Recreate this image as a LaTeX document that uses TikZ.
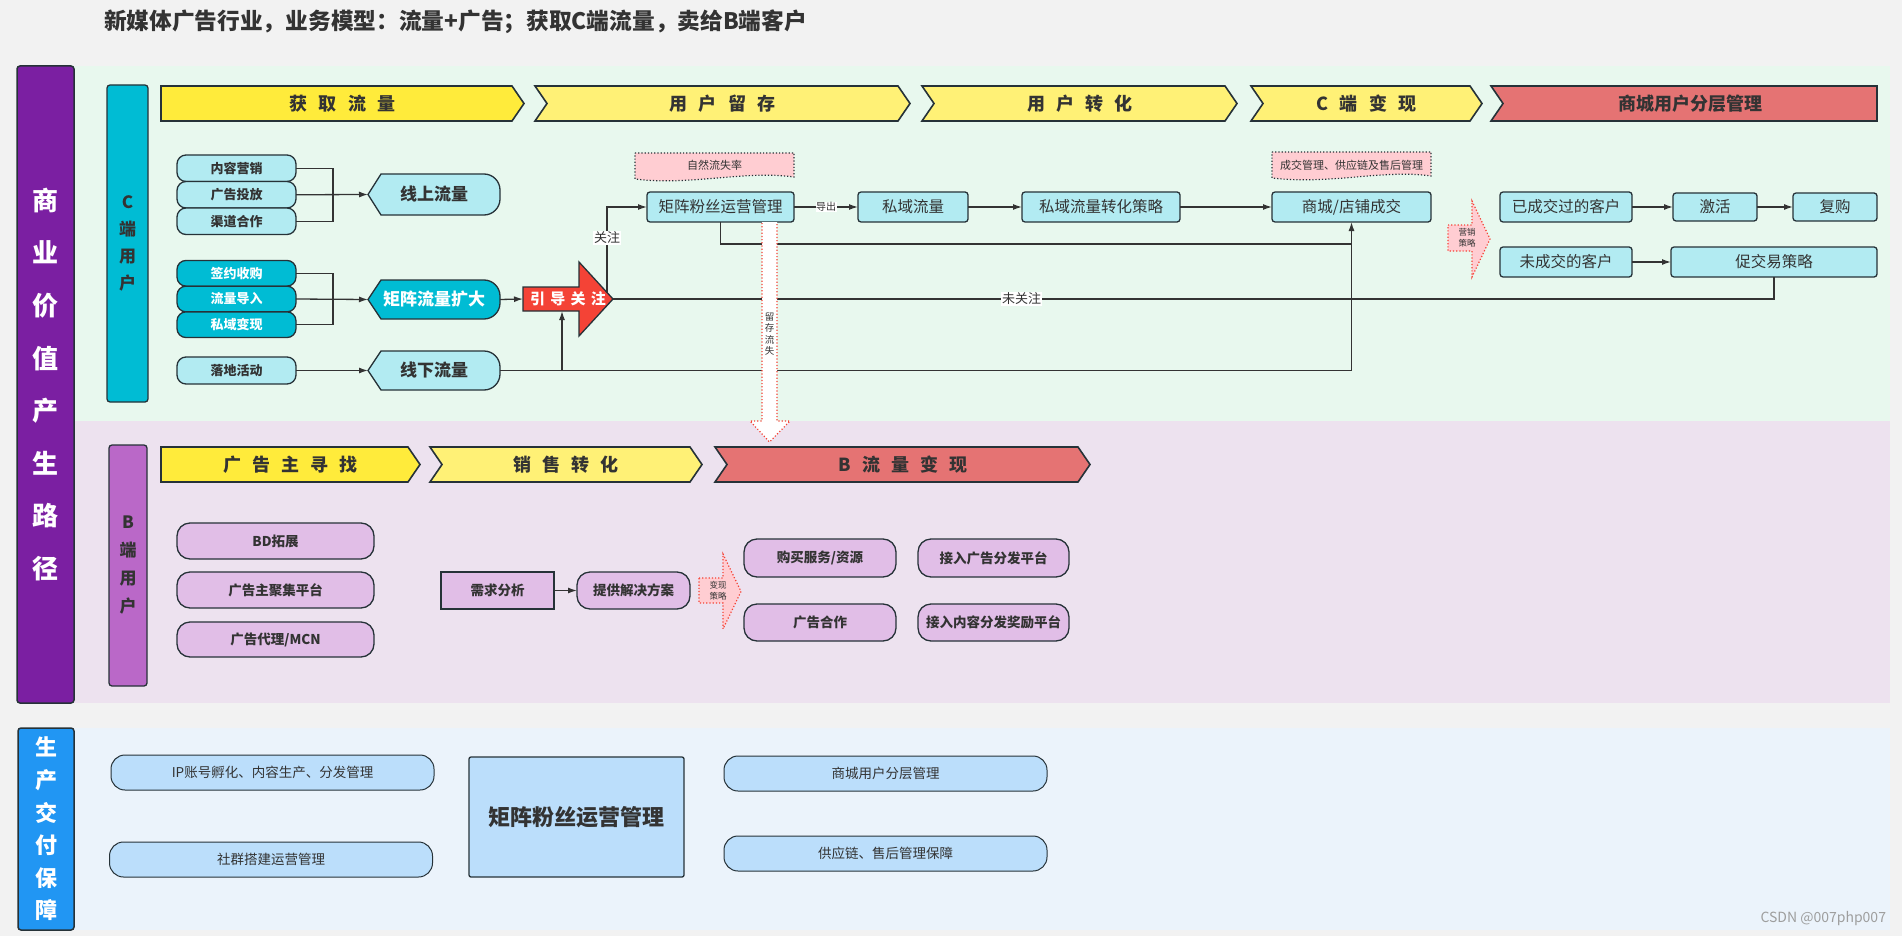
\documentclass[tikz,border=0pt]{standalone}
\usepackage{fontspec}
\setmainfont{Noto Sans CJK SC}
\usetikzlibrary{arrows.meta,calc}
\definecolor{pagebg}{HTML}{F2F2F2}
\definecolor{bandC}{HTML}{E8F8EE}
\definecolor{bandB}{HTML}{EDE2EF}
\definecolor{bandP}{HTML}{EBF3FB}
\definecolor{purpleBar}{HTML}{7B1FA2}
\definecolor{cyanBar}{HTML}{00BCD4}
\definecolor{violetBar}{HTML}{BA68C8}
\definecolor{blueBar}{HTML}{2196F3}
\definecolor{cyanL}{HTML}{B2EBF2}
\definecolor{violetL}{HTML}{E1BEE7}
\definecolor{blueL}{HTML}{BBDEFB}
\definecolor{yelA}{HTML}{FFEB3B}
\definecolor{yelB}{HTML}{FFF176}
\definecolor{redA}{HTML}{E57373}
\definecolor{redB}{HTML}{F44336}
\definecolor{noteP}{HTML}{FFCDD2}
\definecolor{bord}{HTML}{263238}
\definecolor{txt}{HTML}{333333}
\definecolor{wm}{HTML}{9E9E9E}
\newcommand\chgap{\hspace{0.62em}}
\newcommand\fsz[1]{\fontsize{#1}{#1}\selectfont}
\newcommand\dispshape[5]{%
  \path[dispst,fill=#5] (#1,{(#3+#4)/2}) -- ({#1+13},#3) -- ({#2-16},#3)
    .. controls ({#2-7.2},#3) and (#2,{#3+7.2}) .. (#2,{#3+16}) -- (#2,{#4-16})
    .. controls (#2,{#4-7.2}) and ({#2-7.2},#4) .. ({#2-16},#4) -- ({#1+13},#4) -- cycle;}
\begin{document}
\begin{tikzpicture}[x=1pt,y=-1pt,
  base/.style={inner sep=0pt, outer sep=0pt, align=center, text=txt},
  box/.style={base, draw=bord, line width=1.3pt},
  cpill/.style={box, fill=cyanL, rounded corners=9pt, minimum width=119pt, minimum height=26.5pt, font=\fsz{13}\bfseries},
  dpill/.style={cpill, fill=cyanBar, text=white, minimum height=25.7pt},
  crect/.style={box, fill=cyanL, rounded corners=3pt, minimum height=30pt, font=\fsz{15.5}},
  bpill/.style={box, fill=violetL, rounded corners=13pt, minimum height=36pt, font=\fsz{13.5}\bfseries},
  ppill/.style={box, fill=blueL, rounded corners=14pt, minimum width=323pt, minimum height=35pt, font=\fsz{13.5}, line width=1pt},
  dispst/.style={draw=bord, line width=1.3pt},
  hdr/.style={draw=bord, line width=1.6pt, line join=miter},
  hdtext/.style={base, font=\fsz{18}\bfseries},
  disptext/.style={base, font=\fsz{17}\bfseries, minimum width=132pt},
  conn/.style={draw=txt, line width=1.3pt},
  arr/.style={conn, -{Latex[length=9pt,width=6pt]}},
  lbl/.style={base, fill=white, inner sep=1pt, font=\fsz{13}},
  note/.style={fill=noteP, draw=bord, dotted, line width=1.2pt},
  softarrow/.style={fill=noteP, draw=redB, dotted, line width=1.2pt}]
\fill[pagebg] (0,0) rectangle (1902,936);
\useasboundingbox (0,0) rectangle (1902,936);
% bands
\fill[bandC] (74,66) rectangle (1890,421);
\fill[bandB] (74,421) rectangle (1890,703);
\fill[bandP] (74,728) rectangle (1890,930);
% title
\node[base, anchor=west, font=\fsz{22.7}\bfseries] (title) at (104,22) {新媒体广告行业，业务模型：流量+广告；获取C端流量，卖给B端客户};
% side bars
\node[box, fill=purpleBar, rounded corners=3pt, minimum width=57pt, minimum height=637pt, text=white, line width=1.5pt, font=\fontsize{26}{52.6}\selectfont\bfseries] (valuebar) at (45.5,384.5) {商\\业\\价\\值\\产\\生\\路\\径};
\node[box, fill=cyanBar, rounded corners=3pt, minimum width=41pt, minimum height=317pt, font=\fontsize{17}{27}\selectfont\bfseries] (cbar) at (127.5,243.5) {C\\端\\用\\户};
\node[box, fill=violetBar, rounded corners=3pt, minimum width=38pt, minimum height=241pt, font=\fontsize{17}{28}\selectfont\bfseries] (bbar) at (128,565.5) {B\\端\\用\\户};
\node[box, fill=blueBar, rounded corners=3pt, minimum width=56pt, minimum height=202pt, text=white, line width=1.5pt, font=\fontsize{22}{32.6}\selectfont\bfseries] (prodbar) at (46,829) {生\\产\\交\\付\\保\\障};
% C headers
\path[hdr, fill=yelA] (161,86) -- (512,86) -- (524,103.5) -- (512,121) -- (161,121) -- cycle;
\node[hdtext] (h1) at (342.5,103.5) {获\chgap 取\chgap 流\chgap 量};
\path[hdr, fill=yelB] (535,86) -- (898,86) -- (910,103.5) -- (898,121) -- (535,121) -- (547,103.5) -- cycle;
\node[hdtext] (h2) at (722.5,103.5) {用\chgap 户\chgap 留\chgap 存};
\path[hdr, fill=yelB] (922,86) -- (1225,86) -- (1237,103.5) -- (1225,121) -- (922,121) -- (934,103.5) -- cycle;
\node[hdtext] (h3) at (1080,103.5) {用\chgap 户\chgap 转\chgap 化};
\path[hdr, fill=yelB] (1251,86) -- (1470,86) -- (1482,103.5) -- (1470,121) -- (1251,121) -- (1263,103.5) -- cycle;
\node[hdtext] (h4) at (1366.5,103.5) {C\chgap 端\chgap 变\chgap 现};
\path[hdr, fill=redA] (1491,86) -- (1877,86) -- (1877,121) -- (1491,121) -- (1503,103.5) -- cycle;
\node[hdtext] (h5) at (1690,103.5) {商城用户分层管理};
% B headers
\path[hdr, fill=yelA] (161,447) -- (408,447) -- (420,464.5) -- (408,482) -- (161,482) -- cycle;
\node[hdtext] (hb1) at (290.5,464.5) {广\chgap 告\chgap 主\chgap 寻\chgap 找};
\path[hdr, fill=yelB] (430,447) -- (690,447) -- (702,464.5) -- (690,482) -- (430,482) -- (442,464.5) -- cycle;
\node[hdtext] (hb2) at (566,464.5) {销\chgap 售\chgap 转\chgap 化};
\path[hdr, fill=redA] (715,447) -- (1078,447) -- (1090,464.5) -- (1078,482) -- (715,482) -- (727,464.5) -- cycle;
\node[hdtext] (hb3) at (903,464.5) {B\chgap 流\chgap 量\chgap 变\chgap 现};
% C section left
\node[cpill] (n1) at (236.5,168.25) {内容营销};
\node[cpill] (n2) at (236.5,194.75) {广告投放};
\node[cpill] (n3) at (236.5,221.25) {渠道合作};
\dispshape{368}{500}{174}{215}{cyanL}
\node[disptext, minimum height=41pt] (online) at (434,194.5) {线上流量};
\node[dpill] (d1) at (236.5,273.3) {签约收购};
\node[dpill] (d2) at (236.5,299) {流量导入};
\node[dpill] (d3) at (236.5,324.7) {私域变现};
\dispshape{368}{500}{280}{319}{cyanBar}
\node[disptext, text=white, minimum height=39pt] (expand) at (434,299.5) {矩阵流量扩大};
\node[cpill, minimum height=27pt] (land) at (236.5,370.5) {落地活动};
\dispshape{368}{500}{351}{390}{cyanL}
\node[disptext, minimum height=39pt] (offline) at (434,370.5) {线下流量};
% guide arrow
\path[draw=bord, line width=1.3pt, fill=redB] (523,287) -- (579,287) -- (579,262) -- (613,299) -- (579,336) -- (579,311) -- (523,311) -- cycle;
\node[base, text=white, font=\fsz{15}\bfseries, minimum width=90pt, minimum height=74pt] (guide) at (568,299) {引\hspace{0.35em}导\hspace{0.35em}关\hspace{0.35em}注};
% brackets
\coordinate (br1) at (333,194.75);
\draw[conn] (n1.east) -| (br1) |- (n3.east);
\draw[arr] (n2.east) -- (online.west);
\coordinate (br2) at (333,299);
\draw[conn] (d1.east) -| (br2) |- (d3.east);
\draw[arr] (d2.east) -- (expand.west);
\draw[arr] (land.east) -- (offline.west);
\draw[arr] (expand.east) -- (guide.west);
% C main row
\node[crect, minimum width=147pt] (fans) at (720.5,207) {矩阵粉丝运营管理};
\node[crect, minimum width=110pt] (private) at (913,207) {私域流量};
\node[crect, minimum width=158pt] (strat) at (1101,207) {私域流量转化策略};
\node[crect, minimum width=159pt] (mall) at (1351.5,207) {商城/店铺成交};
\node[crect, minimum width=132pt] (done) at (1566,207) {已成交过的客户};
\node[crect, minimum width=84pt, minimum height=28pt] (act) at (1715,207) {激活};
\node[crect, minimum width=84pt, minimum height=28pt] (rebuy) at (1835,207) {复购};
\node[crect, minimum width=132pt] (undone) at (1566,262) {未成交的客户};
\node[crect, minimum width=206pt] (promo) at (1774,262) {促交易策略};
% notes
\path[note] (635,153) -- (794,153) -- (794,177) .. controls (745,170) and (690,186) .. (635,179) -- cycle;
\node[base, font=\fsz{11}] (loss) at (714.5,165) {自然流失率};
\path[note] (1272,152) -- (1431,152) -- (1431,176) .. controls (1385,169) and (1330,185) .. (1272,178) -- cycle;
\node[base, font=\fsz{11}] (dealnote) at (1351.5,165) {成交管理、供应链及售后管理};
% C connectors
\coordinate (g1) at (607,292.5);
\draw[arr] (g1) |- (fans.west) node[lbl, pos=0.32] {关注};
\draw[arr] (fans.east) -- (private.west) node[lbl, midway, font=\fsz{10}, inner sep=0.5pt] {导出};
\draw[arr] (private.east) -- (strat.west);
\draw[arr] (strat.east) -- (mall.west);
\coordinate (j1) at (1351.5,244);
\draw[conn] (fans.south) |- (j1);
\draw[arr] (offline.east) -| (mall.south);
\coordinate (gb) at (562,311);
\draw[arr] (offline.east -| gb) -- (gb);
\draw[conn] (guide.east) -| (promo.south) node[lbl, pos=0.176] {未关注};
\draw[arr] (done.east) -- (act.west);
\draw[arr] (act.east) -- (rebuy.west);
\draw[arr] (undone.east) -- (promo.west);
% marketing arrow
\path[softarrow] (1448,225) -- (1472,225) -- (1472,201) -- (1490,239) -- (1472,277) -- (1472,251) -- (1448,251) -- cycle;
\node[base, font=\fontsize{8.5}{11}\selectfont] (mkt) at (1467,238) {营销\\策略};
% retention down arrow
\path[fill=white] (762,222) -- (762,421) -- (750,421) -- (769.5,442) -- (790,421) -- (777,421) -- (777,222) -- cycle;
\draw[redB, dotted, line width=1.2pt] (762,223) -- (762,421) -- (750,421) -- (769.5,442) -- (790,421) -- (777,421) -- (777,223);
\node[base, font=\fontsize{9.5}{11.5}\selectfont] (keep) at (769.5,334) {留\\存\\流\\失};
% B section
\node[bpill, minimum width=197pt] (bd) at (275.5,541) {BD拓展};
\node[bpill, minimum width=197pt] (agg) at (275.5,590) {广告主聚集平台};
\node[bpill, minimum width=197pt, minimum height=35pt] (agent) at (275.5,639.5) {广告代理/MCN};
\node[box, fill=violetL, minimum width=113pt, minimum height=37pt, font=\fsz{13.5}\bfseries] (need) at (497.5,590.5) {需求分析};
\node[bpill, minimum width=113pt, minimum height=37pt] (solve) at (633.5,590.5) {提供解决方案};
\draw[arr] (need.east) -- (solve.west);
\path[softarrow] (699,578) -- (723,578) -- (723,554) -- (741,591.5) -- (723,629) -- (723,603) -- (699,603) -- cycle;
\node[base, font=\fontsize{8.5}{11}\selectfont] (monet) at (718,591) {变现\\策略};
\node[bpill, minimum width=152pt, minimum height=38pt] (buy) at (820,558) {购买服务/资源};
\node[bpill, minimum width=152pt, minimum height=37pt] (adco) at (820,622.5) {广告合作};
\node[bpill, minimum width=151pt, minimum height=38pt] (adplat) at (993.5,558) {接入广告分发平台};
\node[bpill, minimum width=151pt, minimum height=37pt] (contplat) at (993.5,622.5) {接入内容分发奖励平台};
% bottom
\node[ppill] (ip) at (272.5,772.5) {IP账号孵化、内容生产、分发管理};
\node[ppill] (comm) at (271,859.5) {社群搭建运营管理};
\node[box, fill=blueL, rounded corners=2pt, minimum width=215pt, minimum height=120pt, font=\fsz{22}\bfseries] (bigfans) at (576.5,817) {矩阵粉丝运营管理};
\node[ppill] (mallb) at (885.5,773.5) {商城用户分层管理};
\node[ppill] (supply) at (885.5,853.5) {供应链、售后管理保障};
\node[base, anchor=east, text=wm, font=\fsz{14}] (mark) at (1886,919) {CSDN @007php007};
\end{tikzpicture}
\end{document}
